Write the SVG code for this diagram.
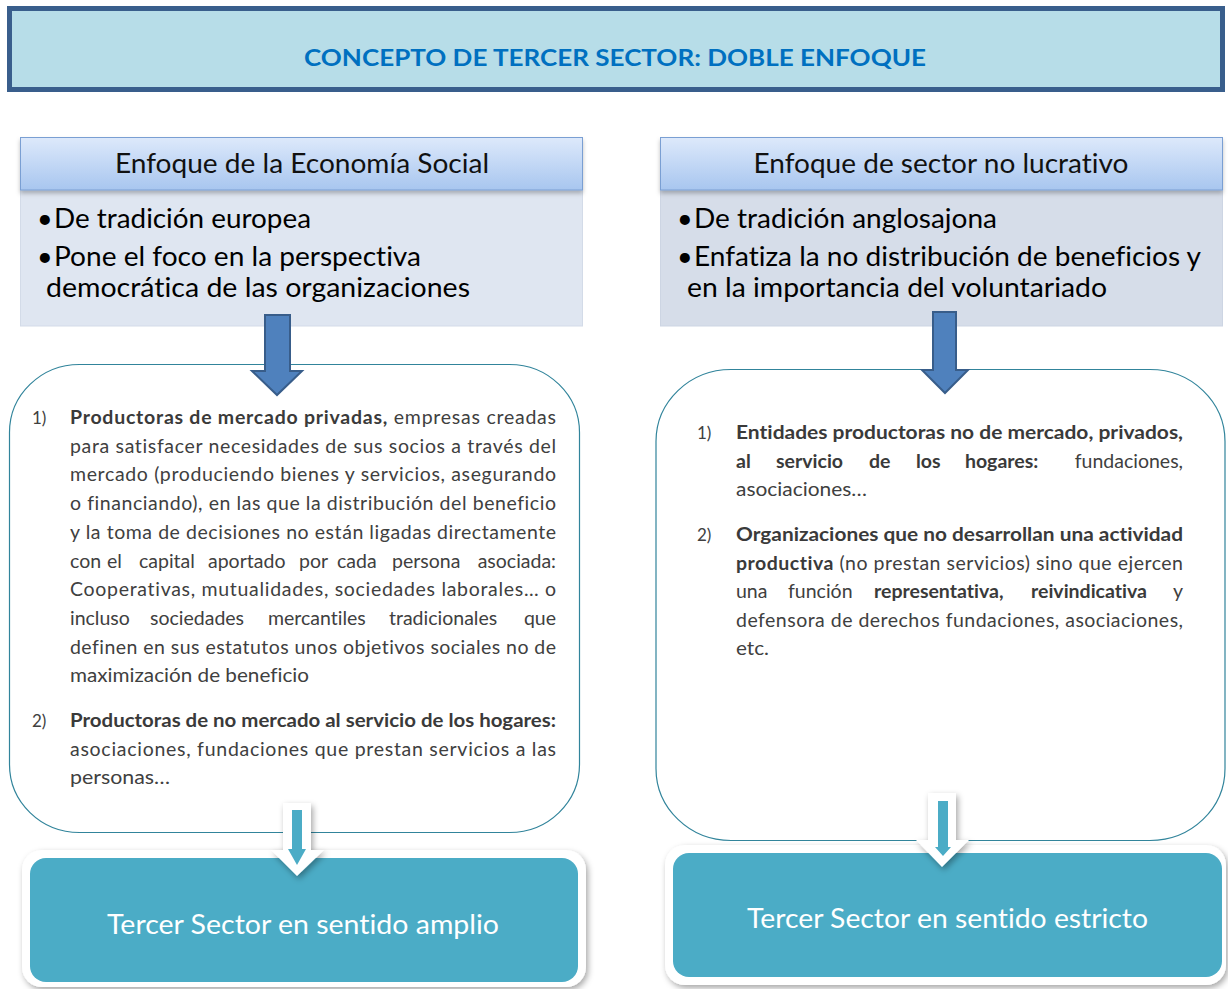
<svg xmlns="http://www.w3.org/2000/svg" width="1228" height="989" viewBox="0 0 1228 989">
<defs>
<linearGradient id="hdrGrad" x1="0" y1="0" x2="0" y2="1">
<stop offset="0" stop-color="#dde9fb"/>
<stop offset="1" stop-color="#a8c6ef"/>
</linearGradient>
<filter id="shadow" x="-10%" y="-10%" width="125%" height="130%">
<feDropShadow dx="2" dy="3" stdDeviation="3" flood-color="#000" flood-opacity="0.35"/>
</filter>
<filter id="softShadow" x="-5%" y="-20%" width="110%" height="160%">
<feDropShadow dx="0" dy="3" stdDeviation="2" flood-color="#000" flood-opacity="0.25"/>
</filter>
<style>
text{font-family:Lato,"Open Sans","Liberation Sans",sans-serif;font-variant-ligatures:none}
.title{font-size:23px;font-weight:bold;fill:#0070c0}
.hd{font-size:27px;fill:#111}
.bl{font-size:27px;fill:#000}
.c{font-size:19.5px;fill:#404040}
.n{font-size:17px;fill:#404040}
.b{font-weight:bold;fill:#3a3a3a}
.bt{font-size:27px;fill:#fff}
.hdr{fill:url(#hdrGrad);stroke:#7a9fd3;stroke-width:1}
.content{fill:#fff;stroke:#31849b;stroke-width:1.2}
.frame{fill:#fff;filter:url(#shadow)}
.teal{fill:#4bacc6}
.bigArrow{fill:#4f81bd;stroke:#385d8a;stroke-width:2;stroke-linejoin:miter}
.wArrow{fill:#fff;filter:url(#shadow)}
.tArrow{fill:#4bacc6}
</style>
</defs>

<g id="title">
<rect x="9.5" y="8.5" width="1213" height="81" fill="#b7dde8" stroke="#395e8c" stroke-width="5"/>
<text class="title" x="615" y="66" text-anchor="middle" textLength="622" lengthAdjust="spacingAndGlyphs">CONCEPTO DE TERCER SECTOR: DOBLE ENFOQUE</text>
</g>

<g id="left-approach">
<rect x="20.5" y="190" width="562" height="136" fill="#dfe6f1" stroke="#d3dbe8" stroke-width="1"/>
<rect class="hdr" x="20.5" y="137.5" width="562" height="52.5" filter="url(#softShadow)"/>
<text class="hd" x="302" y="173" text-anchor="middle" textLength="374" lengthAdjust="spacingAndGlyphs">Enfoque de la Economía Social</text>
<text class="bl" x="37" y="228">•</text>
<text class="bl" x="54" y="228" textLength="257" lengthAdjust="spacingAndGlyphs">De tradición europea</text>
<text class="bl" x="37" y="266">•</text>
<text class="bl" x="54" y="266" textLength="367" lengthAdjust="spacingAndGlyphs">Pone el foco en la perspectiva</text>
<text class="bl" x="46" y="297" textLength="424" lengthAdjust="spacingAndGlyphs">democrática de las organizaciones</text>
</g>

<g id="right-approach">
<rect x="660.5" y="190" width="562" height="136" fill="#d6dde9" stroke="#cdd5e3" stroke-width="1"/>
<rect class="hdr" x="660.5" y="137.5" width="562" height="52.5" filter="url(#softShadow)"/>
<text class="hd" x="941" y="173" text-anchor="middle" textLength="375" lengthAdjust="spacingAndGlyphs">Enfoque de sector no lucrativo</text>
<text class="bl" x="677" y="228">•</text>
<text class="bl" x="694" y="228" textLength="303" lengthAdjust="spacingAndGlyphs">De tradición anglosajona</text>
<text class="bl" x="677" y="266">•</text>
<text class="bl" x="694" y="266" textLength="507" lengthAdjust="spacingAndGlyphs">Enfatiza la no distribución de beneficios y</text>
<text class="bl" x="687" y="297" textLength="420" lengthAdjust="spacingAndGlyphs">en la importancia del voluntariado</text>
</g>

<g id="left-content">
<rect class="content" x="9.5" y="364.5" width="570" height="468" rx="70" ry="68"/>
<text class="n" x="32" y="424">1)</text>
<text class="c" x="70" y="424" textLength="486" lengthAdjust="spacing"><tspan class="b">Productoras de mercado privadas,</tspan> empresas creadas</text>
<text class="c" x="70" y="452.7" textLength="486" lengthAdjust="spacing">para satisfacer necesidades de sus socios a través del</text>
<text class="c" x="70" y="481.4" textLength="486" lengthAdjust="spacing">mercado (produciendo bienes y servicios, asegurando</text>
<text class="c" x="70" y="510" textLength="486" lengthAdjust="spacing">o financiando), en las que la distribución del beneficio</text>
<text class="c" x="70" y="538.8" textLength="486" lengthAdjust="spacing">y la toma de decisiones no están ligadas directamente</text>
<text class="c" y="567.5"><tspan x="70">con</tspan><tspan x="107">el</tspan><tspan x="139">capital</tspan><tspan x="208">aportado</tspan><tspan x="299">por</tspan><tspan x="337">cada</tspan><tspan x="392">persona</tspan></text>
<text class="c" x="556" y="567.5" text-anchor="end">asociada:</text>
<text class="c" x="70" y="596" textLength="486" lengthAdjust="spacing">Cooperativas, mutualidades, sociedades laborales… o</text>
<text class="c" y="625"><tspan x="70">incluso</tspan><tspan x="150">sociedades</tspan><tspan x="268">mercantiles</tspan><tspan x="389">tradicionales</tspan></text>
<text class="c" x="556" y="625" text-anchor="end">que</text>
<text class="c" x="70" y="653.6" textLength="486" lengthAdjust="spacing">definen en sus estatutos unos objetivos sociales no de</text>
<text class="c" x="70" y="682.3" textLength="239" lengthAdjust="spacingAndGlyphs">maximización de beneficio</text>
<text class="n" x="32" y="727">2)</text>
<text class="c" x="70" y="727" textLength="486" lengthAdjust="spacingAndGlyphs"><tspan class="b">Productoras de no mercado al servicio de los hogares:</tspan></text>
<text class="c" x="70" y="755.5" textLength="486" lengthAdjust="spacing">asociaciones, fundaciones que prestan servicios a las</text>
<text class="c" x="70" y="783.5" textLength="100" lengthAdjust="spacingAndGlyphs">personas…</text>
</g>

<g id="right-content">
<rect class="content" x="656" y="369.5" width="569" height="471" rx="75" ry="72"/>
<text class="n" x="697" y="439">1)</text>
<text class="c b" x="736" y="439" textLength="447" lengthAdjust="spacingAndGlyphs">Entidades productoras no de mercado, privados,</text>
<text class="c" y="467.5"><tspan class="b" x="736">al</tspan><tspan class="b" x="776">servicio</tspan><tspan class="b" x="869">de</tspan><tspan class="b" x="916">los</tspan><tspan class="b" x="965">hogares:</tspan></text>
<text class="c" x="1183" y="467.5" text-anchor="end">fundaciones,</text>
<text class="c" x="736" y="496" textLength="131" lengthAdjust="spacingAndGlyphs">asociaciones…</text>
<text class="n" x="697" y="541">2)</text>
<text class="c b" x="736" y="541" textLength="447" lengthAdjust="spacingAndGlyphs">Organizaciones que no desarrollan una actividad</text>
<text class="c" x="736" y="569.5" textLength="447" lengthAdjust="spacing"><tspan class="b">productiva</tspan> (no prestan servicios) sino que ejercen</text>
<text class="c" y="598"><tspan x="736">una</tspan><tspan x="788">función</tspan><tspan class="b" x="874">representativa,</tspan><tspan class="b" x="1031">reivindicativa</tspan></text>
<text class="c" x="1183" y="598" text-anchor="end">y</text>
<text class="c" x="736" y="626.5" textLength="447" lengthAdjust="spacing">defensora de derechos fundaciones, asociaciones,</text>
<text class="c" x="736" y="655" textLength="33" lengthAdjust="spacingAndGlyphs">etc.</text>
</g>

<g id="left-result">
<rect class="frame" x="22" y="850" width="564" height="137" rx="20"/>
<rect class="teal" x="30" y="858" width="548" height="124" rx="16"/>
<text class="bt" x="303" y="934" text-anchor="middle" textLength="392" lengthAdjust="spacingAndGlyphs">Tercer Sector en sentido amplio</text>
</g>

<g id="right-result">
<rect class="frame" x="665" y="845" width="561" height="140" rx="20"/>
<rect class="teal" x="673" y="853" width="549" height="124" rx="16"/>
<text class="bt" x="947.5" y="928" text-anchor="middle" textLength="401" lengthAdjust="spacingAndGlyphs">Tercer Sector en sentido estricto</text>
</g>

<g id="connectors">
<polygon class="bigArrow" points="265,315 290,315 290,371 302,371 277,395 252,371 265,371"/>
<polygon class="bigArrow" points="933,312 956,312 956,370 968,370 945,393 922,370 933,370"/>
<polygon class="wArrow" points="283,803 311,803 311,850 324,850 297,876 271,850 283,850"/>
<polygon class="tArrow" points="292,810 302,810 302,849 306,849 297,865 288,849 292,849"/>
<polygon class="wArrow" points="928,793 956,793 956,840 969,840 942,867 916,840 928,840"/>
<polygon class="tArrow" points="938,801 948,801 948,847 951,847 943,856 935,847 938,847"/>
</g>
</svg>
